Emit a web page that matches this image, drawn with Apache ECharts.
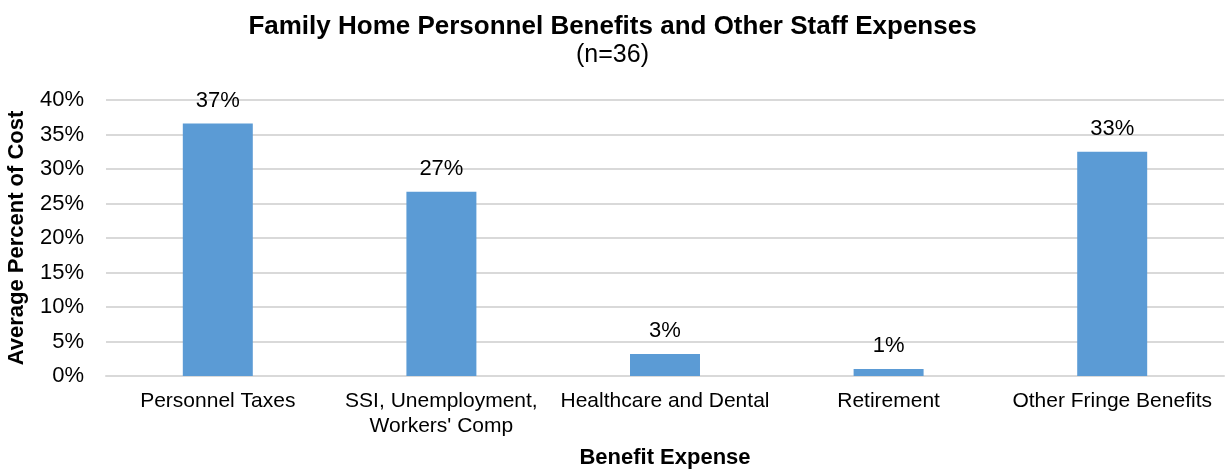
<!DOCTYPE html>
<html>
<head>
<meta charset="utf-8">
<script src="https://cdn.jsdelivr.net/npm/echarts@6/dist/echarts.min.js"></script>
<style>html,body{margin:0;padding:0;background:#fff;}#c{width:1225px;height:472px;}</style>
</head>
<body>
<div id="c"></div>
<script>
const categories = ['Personnel Taxes', 'SSI, Unemployment,\nWorkers\' Comp', 'Healthcare and Dental', 'Retirement', 'Other Fringe Benefits'];
const values = [36.6, 26.7, 3.2, 1.0, 32.5];
const yTicks = [0, 5, 10, 15, 20, 25, 30, 35, 40];

const chart = echarts.init(document.getElementById('c'));
const F = 'Liberation Sans, Arial, sans-serif';
chart.setOption({
  animation: false,
  title: [
    { text: 'Family Home Personnel Benefits and Other Staff Expenses', left: 'center', top: 9,
      textStyle: { fontFamily: F, fontSize: 26, fontWeight: 'bold', color: '#000' } },
    { text: '(n=36)', left: 'center', top: 38,
      textStyle: { fontFamily: F, fontSize: 25, fontWeight: 'normal', color: '#000' } }
  ],
  grid: { left: 106, right: 1, top: 100, bottom: 96, containLabel: false, outerBoundsMode: 'none' },
  xAxis: {
    type: 'category', data: categories,
    name: 'Benefit Expense', nameLocation: 'middle', nameGap: 71,
    nameTextStyle: { fontFamily: F, fontSize: 22, fontWeight: 'bold', color: '#000' },
    axisLine: { show: true, lineStyle: { color: '#d9d9d9', width: 2 } },
    axisTick: { show: false },
    axisLabel: { fontFamily: F, fontSize: 21, color: '#000', margin: 13, lineHeight: 25, interval: 0 }
  },
  yAxis: {
    type: 'value', min: yTicks[0], max: yTicks[yTicks.length - 1], interval: 5,
    name: 'Average Percent of Cost', nameLocation: 'middle', nameGap: 78, nameRotate: 90,
    nameTextStyle: { fontFamily: F, fontSize: 22, fontWeight: 'bold', color: '#000' },
    axisLine: { show: false }, axisTick: { show: false },
    splitLine: { lineStyle: { color: '#d9d9d9', width: 2 } },
    axisLabel: { fontFamily: F, fontSize: 22, color: '#000', margin: 22, formatter: v => v + '%' }
  },
  series: [{
    type: 'bar', data: values, barWidth: '31.3%',
    itemStyle: { color: '#5b9bd5' },
    label: { show: true, position: 'top', distance: 12, fontFamily: F, fontSize: 22, color: '#000',
      formatter: p => Math.round(p.value) + '%' }
  }]
});
</script>
</body>
</html>
